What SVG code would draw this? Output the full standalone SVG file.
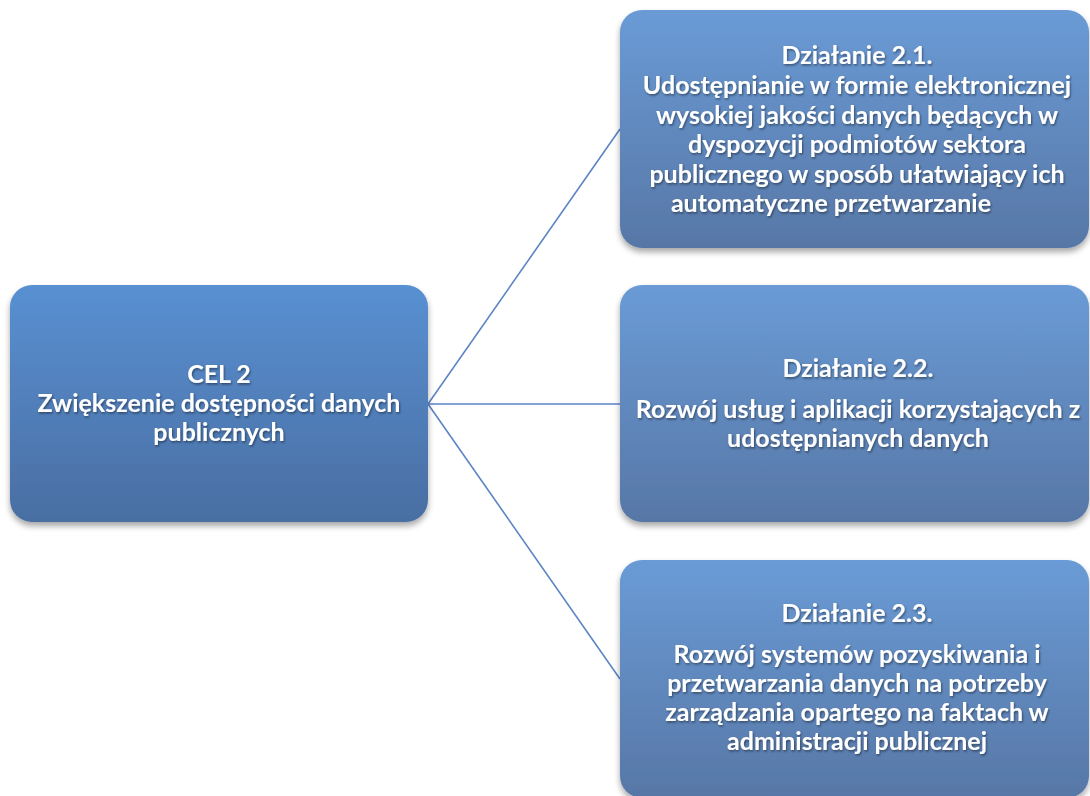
<svg xmlns="http://www.w3.org/2000/svg" width="1090" height="796" viewBox="0 0 1090 796">
<defs>
<linearGradient id="gL" x1="0" y1="0" x2="0" y2="1">
<stop offset="0" stop-color="#5890d2"/>
<stop offset="1" stop-color="#4a6ea2"/>
</linearGradient>
<linearGradient id="gR" x1="0" y1="0" x2="0" y2="1">
<stop offset="0" stop-color="#6a9bd6"/>
<stop offset="1" stop-color="#5777a6"/>
</linearGradient>
<filter id="sh" x="-10%" y="-10%" width="120%" height="130%">
<feGaussianBlur in="SourceAlpha" stdDeviation="3"/>
<feOffset dx="0" dy="4" result="b"/>
<feComponentTransfer><feFuncA type="linear" slope="0.35"/></feComponentTransfer>
<feMerge><feMergeNode/><feMergeNode in="SourceGraphic"/></feMerge>
</filter>
<filter id="ts" x="-5%" y="-20%" width="110%" height="140%">
<feDropShadow dx="1" dy="1.5" stdDeviation="1" flood-color="#000" flood-opacity="0.45"/>
</filter>
</defs>
<style>
.t{font-family:Lato,"Open Sans","Liberation Sans",sans-serif;font-weight:bold;font-size:25px;fill:#fff;text-anchor:middle}
.c{stroke:#5b84c4;stroke-width:1.6;fill:none}
</style>
<rect width="1090" height="796" fill="#fff"/>
<g id="connectors">
<line class="c" x1="428" y1="404" x2="620" y2="129"/>
<line class="c" x1="428" y1="404" x2="620" y2="404"/>
<line class="c" x1="428" y1="404" x2="620" y2="679"/>
</g>
<g id="cel2">
<rect x="10" y="285" width="418" height="237" rx="22" fill="url(#gL)" filter="url(#sh)"/>
<g class="t" filter="url(#ts)">
<text x="219" y="383">CEL 2</text>
<text x="219" y="412">Zwiększenie dostępności danych</text>
<text x="219" y="441">publicznych</text>
</g>
</g>
<g id="dz21">
<rect x="620" y="10" width="469" height="238" rx="22" fill="url(#gR)" filter="url(#sh)"/>
<g class="t" filter="url(#ts)">
<text x="857" y="64">Działanie 2.1.</text>
<text x="857" y="94">Udostępnianie w formie elektronicznej</text>
<text x="857" y="123.5">wysokiej jakości danych będących w</text>
<text x="857" y="153">dyspozycji podmiotów sektora</text>
<text x="857" y="183">publicznego w sposób ułatwiający ich</text>
<text x="831" y="212">automatyczne przetwarzanie</text>
</g>
</g>
<g id="dz22">
<rect x="620" y="285" width="469" height="237" rx="22" fill="url(#gR)" filter="url(#sh)"/>
<g class="t" filter="url(#ts)">
<text x="858" y="377">Działanie 2.2.</text>
<text x="858" y="418">Rozwój usług i aplikacji korzystających z</text>
<text x="858" y="447">udostępnianych danych</text>
</g>
</g>
<g id="dz23">
<rect x="620" y="560" width="469" height="238" rx="22" fill="url(#gR)" filter="url(#sh)"/>
<g class="t" filter="url(#ts)">
<text x="857" y="622">Działanie 2.3.</text>
<text x="857" y="663">Rozwój systemów pozyskiwania i</text>
<text x="857" y="692">przetwarzania danych na potrzeby</text>
<text x="857" y="721">zarządzania opartego na faktach w</text>
<text x="857" y="750">administracji publicznej</text>
</g>
</g>
</svg>
